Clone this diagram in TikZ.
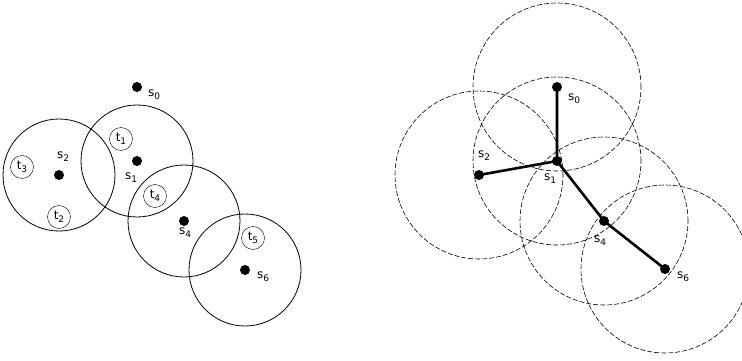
\documentclass[tikz,border=0pt]{standalone}
\usepackage{fontspec}
\setmainfont{DejaVu Sans}
\tikzset{
  dot/.style={circle,fill=black,inner sep=0pt,minimum size=10pt},
  tnode/.style={circle,draw,inner sep=0pt,minimum size=23pt},
  senserange/.style={draw,line width=0.8pt},
  commrange/.style={draw,dash pattern=on 5pt off 2pt,line width=0.6pt},
  link/.style={line width=2.6pt},
}
\newcommand{\idx}[1]{\raisebox{-0.45ex}{\fontsize{9}{9}\selectfont #1}}
\newcommand{\sn}[1]{s\idx{#1}}
\newcommand{\tn}[1]{t\idx{#1}}
\begin{document}
\begin{tikzpicture}[x=1pt,y=-1pt,font=\fontsize{12}{14}\selectfont]
		\useasboundingbox (0,0) rectangle (742,361);
		% left: sensors, their ranges and the targets
		\node[dot] (s0) at (137,87) {};
		\node[dot] (s1) at (137,161) {};
		\node[dot] (s2) at (59,175) {};
		\node[dot] (s4) at (184,221) {};
		\node[dot] (s6) at (245,270) {};
		\draw[senserange]
		(s1.center) circle[radius=56pt]
		(s2.center) circle[radius=56pt]
		(s4.center) circle[radius=56pt]
		(s6.center) circle[radius=56pt];
		\node[tnode] (t1) at (121,139) {\tn{1}};
		\node[tnode] (t2) at (59,217) {\tn{2}};
		\node[tnode] (t3) at (22,167) {\tn{3}};
		\node[tnode] (t4) at (155,196) {\tn{4}};
		\node[tnode] (t5) at (253,238) {\tn{5}};
		\node (ls0) at (154,95) {\sn{0}};
		\node (ls1) at (131,178) {\sn{1}};
		\node (ls2) at (63,157) {\sn{2}};
		\node (ls4) at (185,233) {\sn{4}};
		\node (ls6) at (263,277) {\sn{6}};
		% right: communication ranges and the tree
		\node[dot] (r0) at (557,87) {};
		\node[dot] (r1) at (557,161) {};
		\node[dot] (r2) at (479,175) {};
		\node[dot] (r4) at (604,221) {};
		\node[dot] (r6) at (665,269) {};
		\draw[commrange]
		(r0.center) circle[radius=84pt]
		(r1.center) circle[radius=84pt]
		(r2.center) circle[radius=84pt]
		(r4.center) circle[radius=84pt]
		(r6.center) circle[radius=84pt];
		\draw[link]
		(r1.center)--(r0.center)
		(r1.center)--(r2.center)
		(r1.center)--(r4.center)--(r6.center);
		\node (lr0) at (574,99) {\sn{0}};
		\node (lr1) at (550,179) {\sn{1}};
		\node (lr2) at (484,156) {\sn{2}};
		\node (lr4) at (600,241) {\sn{4}};
		\node (lr6) at (683,277) {\sn{6}};
\end{tikzpicture}
\end{document}
